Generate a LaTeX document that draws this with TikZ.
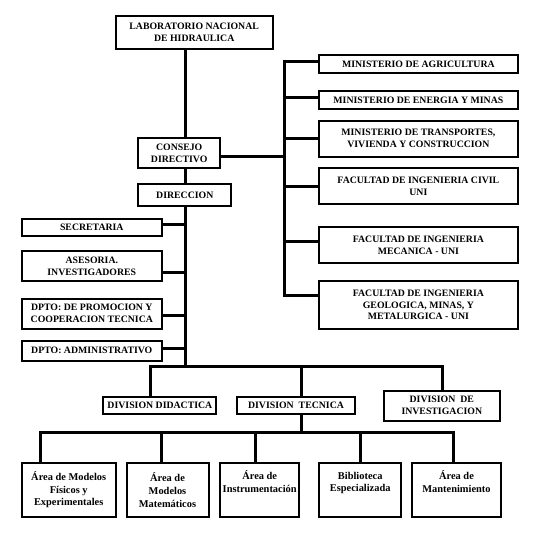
\documentclass[tikz,border=0pt]{standalone}
\usepackage{fontspec}
\setmainfont{Liberation Serif}
\usetikzlibrary{positioning}
\tikzset{
    orgnode/.style = {rectangle, line width=2pt, draw=black, align=center, fill=white, inner sep=0pt, font=\bfseries\fontsize{9.8}{11.9}\selectfont, text=black},
    areanode/.style = {rectangle, line width=2pt, draw=black, align=center, fill=white, inner sep=0pt, font=\bfseries\fontsize{10.4}{12.6}\selectfont, text=black},
    edgen/.style = {-, line width=3pt, black},
}

\begin{document}
\begin{tikzpicture}[x=1pt, y=-1pt]
  \useasboundingbox (0,0) rectangle (534,539);
  % top of the chart
  \node[orgnode, minimum width=157pt, minimum height=33pt] (lab) at (194.2,32.7) {LABORATORIO NACIONAL\\DE HIDRAULICA};
  \node[orgnode, minimum width=81.6pt, minimum height=30pt] (consejo) at (179.2,153.4) {CONSEJO\\DIRECTIVO};
  \node[orgnode, minimum width=93pt, minimum height=22pt] (direccion) at (184.8,195) {DIRECCION};
  % right column
  \node[orgnode, minimum width=198.7pt, minimum height=17.7pt] (agri) at (418.4,64.3) {MINISTERIO DE AGRICULTURA};
  \node[orgnode, minimum width=198.7pt, minimum height=18pt] (energia) at (418.4,100.2) {MINISTERIO DE ENERGIA Y MINAS};
  \node[orgnode, minimum width=198.7pt, minimum height=35.8pt] (transp) at (418.4,138.6) {MINISTERIO DE TRANSPORTES,\\VIVIENDA Y CONSTRUCCION};
  \node[orgnode, minimum width=198.7pt, minimum height=36pt] (civil) at (418.4,186) {FACULTAD DE INGENIERIA CIVIL\\UNI};
  \node[orgnode, minimum width=198.7pt, minimum height=36pt] (mec) at (418.4,245.3) {FACULTAD DE INGENIERIA\\MECANICA - UNI};
  \node[orgnode, minimum width=198.7pt, minimum height=47.6pt] (geol) at (418.4,304.8) {FACULTAD DE INGENIERIA\\GEOLOGICA, MINAS, Y\\METALURGICA - UNI};
  % left column
  \node[orgnode, minimum width=140pt, minimum height=17pt] (secre) at (91.8,227.2) {SECRETARIA};
  \node[orgnode, minimum width=140pt, minimum height=30pt] (asesoria) at (91.8,266) {ASESORIA.\\INVESTIGADORES};
  \node[orgnode, minimum width=140pt, minimum height=30pt] (promocion) at (91.8,313.6) {DPTO: DE PROMOCION Y\\COOPERACION TECNICA};
  \node[orgnode, minimum width=140pt, minimum height=20.4pt] (admin) at (91.8,350.7) {DPTO: ADMINISTRATIVO};
  % divisions
  \node[orgnode, minimum width=113pt, minimum height=17.7pt] (divdid) at (159.9,405.5) {DIVISION DIDACTICA};
  \node[orgnode, minimum width=117.7pt, minimum height=17.7pt] (divtec) at (296,405.5) {DIVISION\ \ TECNICA};
  \node[orgnode, minimum width=116.3pt, minimum height=30pt] (divinv) at (441.8,405.5) {DIVISION\ \ DE\\INVESTIGACION};
  % areas
  \node[areanode, minimum width=93.9pt, minimum height=53.7pt] (area1) at (68.7,490) {Área de Modelos\\Físicos y\\Experimentales};
  \node[areanode, minimum width=82pt, minimum height=53.7pt] (area2) at (167.5,490) {Área de\\Modelos\\Matemáticos};
  \node[areanode, minimum width=79.3pt, minimum height=53.7pt] (area3) at (259.7,490) {Área de\\Instrumentación\\\strut};
  \node[areanode, minimum width=82.3pt, minimum height=53.7pt] (area4) at (360.2,490) {Biblioteca\\Especializada\\\strut};
  \node[areanode, minimum width=88.4pt, minimum height=53.7pt] (area5) at (456.5,490) {Área de\\Mantenimiento\\\strut};

  \coordinate (spine) at (185.4,366.7);
  \coordinate (rbus) at (284.7,150);
  \coordinate (dl) at (150,366.7);
  \coordinate (dm) at (301.7,366.7);
  \coordinate (dr) at (442.2,366.7);
  \coordinate (b1) at (40.1,432.9);
  \coordinate (b2) at (161.9,432.9);
  \coordinate (b3) at (255.8,432.9);
  \coordinate (b4) at (360.5,432.9);
  \coordinate (b5) at (453.4,432.9);

  % main line
  \draw[edgen] (lab.south -| spine) -- (consejo.north -| spine);
  \draw[edgen] (consejo.south -| spine) -- (direccion.north -| spine);
  \draw[edgen] (direccion.south -| spine) -- (spine);
  % right bus
  \draw[edgen] ([yshift=-3pt]consejo.east) -- ([yshift=-3pt]consejo.east -| rbus);
  \draw[edgen] ([yshift=3pt]agri.west) -| ([yshift=9.6pt]geol.west -| rbus) -- ([yshift=9.6pt]geol.west);
  \foreach \n/\s in {energia/3, transp/0, civil/0, mec/3.5}
    \draw[edgen] ([yshift=\s pt]\n.west) -- ([yshift=\s pt]\n.west -| rbus);
  % left branches
  \foreach \n/\s in {secre/2.7, asesoria/-6.1, promocion/-2, admin/2.1}
    \draw[edgen] ([yshift=\s pt]\n.east) -- ([yshift=\s pt]\n.east -| spine);
  % divisions
  \draw[edgen] (dl |- divdid.north) -- (dl) -- (dr) -- (dr |- divinv.north);
  \draw[edgen] (dm) -- (dm |- divtec.north);
  \draw[edgen] (divtec.south -| dm) -- (dm |- b1);
  % areas
  \draw[edgen] (b1 |- area1.north) -- (b1) -- (b5) -- (b5 |- area5.north);
  \foreach \n in {2,3,4}
    \draw[edgen] (b\n) -- (b\n |- area\n.north);
\end{tikzpicture}
\end{document}
